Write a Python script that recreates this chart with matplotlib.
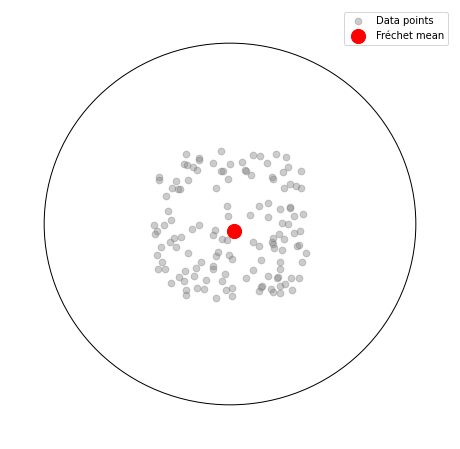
import numpy as np
import matplotlib
matplotlib.use('Agg')
import matplotlib.pyplot as plt

# points in the Poincare disk
x = [-0.235, -0.165, -0.165, -0.050, -0.246, -0.231, -0.201, -0.176, -0.090, -0.047,
     -0.036, 0.002, -0.009, -0.380, -0.380, -0.289, -0.224, -0.310, -0.278, -0.269,
     -0.074, -0.342, -0.332, -0.015, -0.009, -0.316, -0.407, -0.353, -0.206, -0.167,
     -0.081, 0.124, 0.160, 0.249, 0.303, 0.063, 0.201, 0.081, 0.086, 0.115,
     0.224, 0.233, 0.287, 0.313, 0.382, 0.292, 0.324, 0.356, 0.383, 0.206,
     0.156, 0.109, 0.270, 0.324, 0.324, 0.391, 0.346, 0.206, 0.280, 0.312,
     -0.394, -0.402, -0.090, -0.045, -0.015, -0.321, -0.299, -0.263, -0.371, -0.289,
     -0.391, -0.224, -0.063, -0.077, -0.005, 0.012, -0.367, -0.385, -0.348, -0.154,
     -0.181, -0.091, -0.091, -0.240, -0.274, -0.246, -0.192, -0.027, -0.041, -0.316,
     -0.127, -0.235, -0.235, -0.177, -0.140, -0.023, 0.012, -0.074, 0.012, 0.376,
     0.346, 0.265, 0.290, 0.233, 0.227, 0.233, 0.238, 0.124, 0.158, 0.281,
     0.369, 0.360, 0.410, 0.168, 0.270, 0.269, 0.389, 0.125, 0.086, 0.206,
     0.260, 0.255, 0.330, 0.373, 0.174, 0.169, 0.270, 0.297, 0.156, 0.220,
     0.230, 0.267, 0.335]
y = [0.385, 0.365, 0.354, 0.402, 0.331, 0.326, 0.317, 0.297, 0.335, 0.294,
     0.291, 0.331, 0.247, 0.261, 0.243, 0.236, 0.241, 0.197, 0.195, 0.195,
     0.197, 0.155, 0.072, 0.099, 0.043, 0.022, -0.007, -0.007, -0.025, -0.008,
     -0.033, 0.381, 0.376, 0.385, 0.370, 0.341, 0.337, 0.297, 0.291, 0.271,
     0.260, 0.249, 0.286, 0.315, 0.293, 0.197, 0.219, 0.212, 0.197, 0.118,
     0.099, 0.050, 0.081, 0.094, 0.087, 0.055, 0.043, 0.039, 0.006, 0.000,
     -0.037, -0.055, -0.061, -0.085, -0.090, -0.099, -0.076, -0.073, -0.129, -0.129,
     -0.173, -0.160, -0.155, -0.178, -0.173, -0.192, -0.212, -0.249, -0.249, -0.210,
     -0.245, -0.234, -0.247, -0.261, -0.293, -0.315, -0.287, -0.278, -0.315, -0.328,
     -0.309, -0.363, -0.394, -0.354, -0.361, -0.363, -0.352, -0.407, -0.396, -0.039,
     -0.051, -0.057, -0.085, -0.079, -0.099, -0.110, -0.134, -0.099, -0.123, -0.144,
     -0.116, -0.120, -0.162, -0.199, -0.210, -0.249, -0.212, -0.256, -0.300, -0.289,
     -0.294, -0.298, -0.300, -0.300, -0.344, -0.351, -0.343, -0.333, -0.372, -0.361,
     -0.374, -0.383, -0.365]
mean_x, mean_y = 0.022, -0.039

fig = plt.figure(figsize=(460 / 72, 449 / 72), dpi=72)
ax = fig.add_axes([7 / 460, 8 / 449, 446 / 460, 434 / 449])

# boundary of the disk
ax.add_patch(plt.Circle((0, 0), 1, fill=False, color='black', linewidth=1))

ax.scatter(x, y, c='gray', alpha=0.4, s=45, label='Data points')
ax.scatter(mean_x, mean_y, c='red', s=200, label='Fréchet mean')

ax.set_xlim(-1.2, 1.2)
ax.set_ylim(-1.2, 1.2)
ax.axis('off')
ax.legend(loc='upper right', fontsize=10)

fig.savefig('out.png', dpi=72)
